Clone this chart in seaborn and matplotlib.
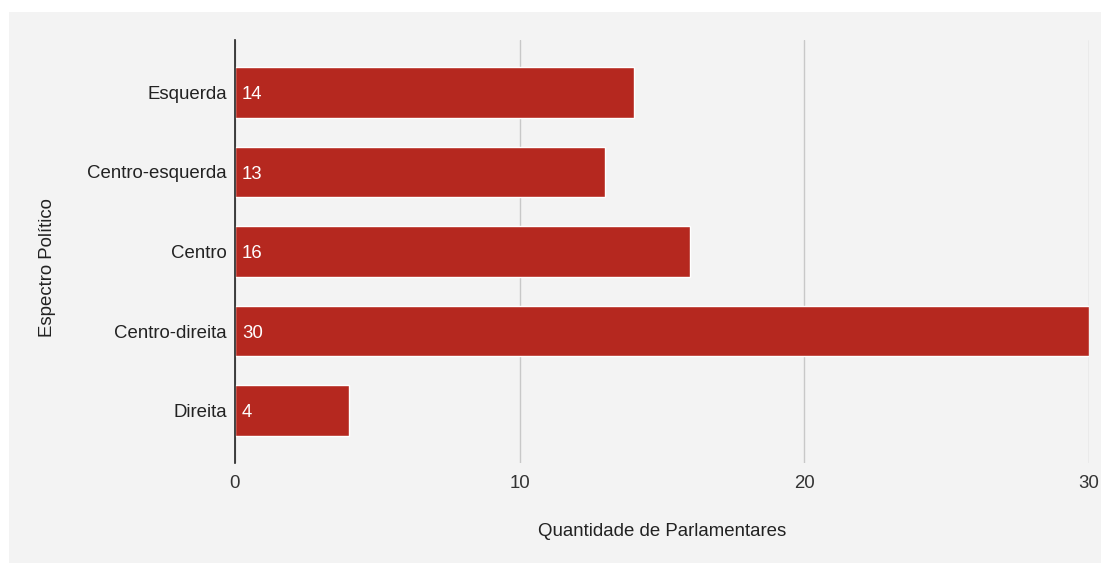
import matplotlib
matplotlib.use("Agg")
import matplotlib.pyplot as plt
from matplotlib.patches import Rectangle
import seaborn as sns
import pandas as pd

categorias = ["Esquerda", "Centro-esquerda", "Centro", "Centro-direita", "Direita"]
quantidades = [14, 13, 16, 30, 4]
x_ticks = [0, 10, 20, 30]

BG = "#f3f3f3"
BAR = "#b5281f"
FS = 13.4

sns.set_theme(style="white")
plt.rcParams["font.family"] = ["Liberation Sans", "DejaVu Sans"]

df = pd.DataFrame({"espectro": categorias, "qtd": quantidades})

fig = plt.figure(figsize=(11.01, 5.63), dpi=100)
fig.patch.set_facecolor("white")
# gray panel behind the chart
fig.patches.append(Rectangle((9 / 1101, 0), 1 - 9 / 1101, 1 - 12 / 563,
                             transform=fig.transFigure, facecolor=BG,
                             edgecolor="none", zorder=-10))

ax = fig.add_axes([235 / 1101, 1 - 463 / 563, (1089 - 235) / 1101, (463 - 40) / 563])
ax.set_facecolor(BG)

sns.barplot(data=df, x="qtd", y="espectro", color=BAR, saturation=1,
            width=0.63, ax=ax)

ax.set_xlim(0, 30)
ax.set_ylim(4.66, -0.66)
ax.set_xticks(x_ticks)
ax.set_xticklabels([str(t) for t in x_ticks], fontsize=FS, color="#333333")
ax.tick_params(axis="y", labelsize=FS, labelcolor="#222222", length=0, pad=6)
ax.tick_params(axis="x", length=0, pad=9)

ax.grid(axis="x", color="#c8c8c8", linewidth=1)
ax.set_axisbelow(True)
for s in ["top", "right", "bottom"]:
    ax.spines[s].set_visible(False)
ax.spines["left"].set_color("#222222")
ax.spines["left"].set_linewidth(1.2)
ax.spines["left"].set_zorder(5)

for i, v in enumerate(quantidades):
    ax.text(0.25, i + 0.03, str(v), color="white", fontsize=FS, va="center", ha="left")

ax.set_xlabel("Quantidade de Parlamentares", fontsize=FS, color="#222222")
ax.xaxis.set_label_coords(0.5, -(531 - 463) / 423, transform=ax.transAxes)
ax.xaxis.label.set_va("center")
ax.set_ylabel("Espectro Político", fontsize=FS, color="#222222")
ax.yaxis.set_label_coords(-(235 - 47) / 854, 1 - (268 - 40) / 423)
ax.yaxis.label.set_va("center")

fig.savefig("out.png", dpi=100, facecolor=fig.get_facecolor())
